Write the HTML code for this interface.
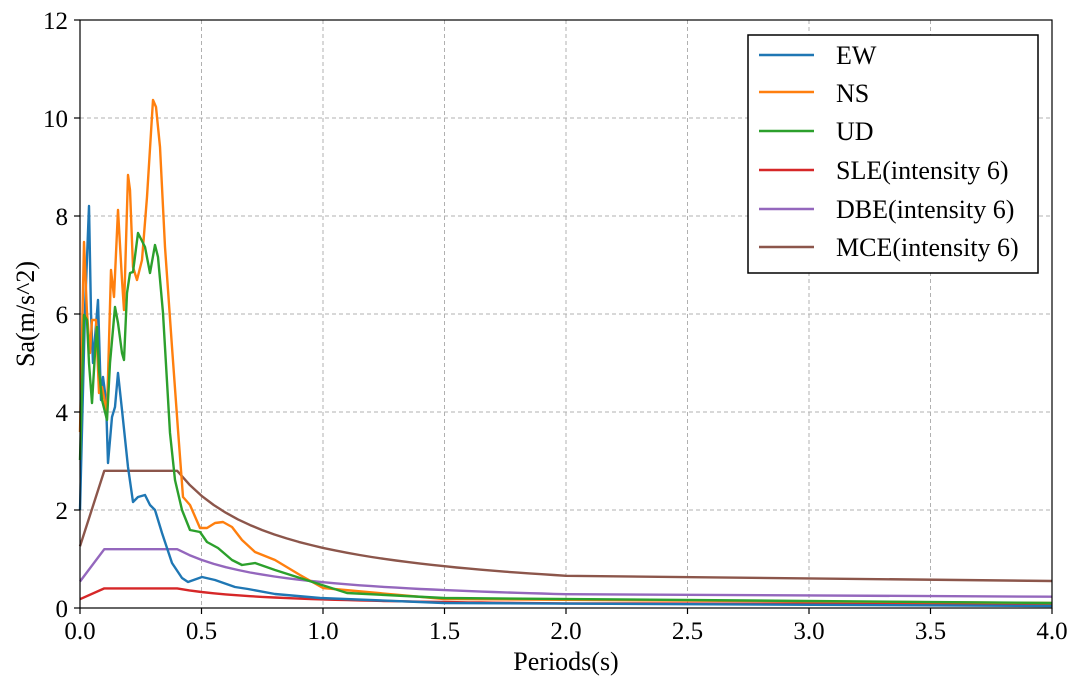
<!DOCTYPE html>
<html><head><style>
body{margin:0;background:#fff;width:1080px;height:686px;overflow:hidden}
text{font-family:"Liberation Serif","Times New Roman",serif;fill:#000}
</style></head><body>
<svg id="s" width="1080" height="686" xmlns="http://www.w3.org/2000/svg">
<g id="grid" stroke="#b0b0b0" stroke-width="1" stroke-dasharray="4,3"></g>
<g id="lines" fill="none" stroke-width="2.4" stroke-linejoin="round"></g>
<rect x="80" y="20" width="972" height="588" fill="none" stroke="#000" stroke-width="1.2"/>
<g id="ticks" stroke="#000" stroke-width="1.2"></g>
<g id="labels" font-size="25"></g>
<text x="566" y="670" font-size="26" text-anchor="middle">Periods(s)</text>
<text transform="translate(34,314) rotate(-90)" font-size="26" text-anchor="middle">Sa(m/s^2)</text>
<rect x="748" y="35" width="290" height="238" fill="#fff" stroke="#000" stroke-width="1.5"/>
<g font-size="26" stroke-width="2.4">
<line x1="759" y1="55" x2="814" y2="55" stroke="#1f77b4"/><text x="836" y="64">EW</text>
<line x1="759" y1="92" x2="814" y2="92" stroke="#ff7f0e"/><text x="836" y="102">NS</text>
<line x1="759" y1="131" x2="814" y2="131" stroke="#2ca02c"/><text x="836" y="140">UD</text>
<line x1="759" y1="170" x2="814" y2="170" stroke="#d62728"/><text x="836" y="179">SLE(intensity 6)</text>
<line x1="759" y1="209" x2="814" y2="209" stroke="#9467bd"/><text x="836" y="218">DBE(intensity 6)</text>
<line x1="759" y1="247" x2="814" y2="247" stroke="#8c564b"/><text x="836" y="256">MCE(intensity 6)</text>
</g>
</svg>
<script>
const NS="http://www.w3.org/2000/svg";
const X=t=>80+t*243, Y=v=>608-v*49;
function el(p,tag,a){const e=document.createElementNS(NS,tag);for(const k in a)e.setAttribute(k,a[k]);p.appendChild(e);return e;}
const g=document.getElementById('grid'),tk=document.getElementById('ticks'),lb=document.getElementById('labels');
for(let i=0;i<=8;i++){const x=X(i*0.5);if(i>0&&i<8)el(g,'line',{x1:x,y1:20,x2:x,y2:608});
el(tk,'line',{x1:x,y1:608,x2:x,y2:614});el(lb,'text',{x:x,y:639,'text-anchor':'middle'}).textContent=(i*0.5).toFixed(1);}
for(let i=0;i<=6;i++){const y=Y(i*2);if(i>0&&i<6)el(g,'line',{x1:80,y1:y,x2:1052,y2:y});
el(tk,'line',{x1:74,y1:y,x2:80,y2:y});el(lb,'text',{x:68,y:y+9,'text-anchor':'end'}).textContent=i*2;}
const L=document.getElementById('lines');
const ew="80,510 85,310 89,206 91,313 93,363 98,300 101,400 103,377 106,400 108,463 112,417 115,407 118,373 122,410 128,467 133,502 138,497 145,495 150,505 155,510 162,533 172,563 182,578 188,582 202,577 215,580 235,587 248,589 275,594 320,598 444,603 1052,606";
const ns="80,432 84,242 87,313 90,353 92,320 96,320 99,393 102,387 107,413 111,270 114,297 118,210 122,280 124,310 128,175 130,190 133,267 137,280 142,260 147,197 153,100 156,107 160,147 165,247 172,347 178,430 183,497 190,505 200,528 207,528 215,523 223,522 232,527 242,540 255,552 275,560 300,575 323,588 444,599 1052,603";
const ud="80,460 84,315 87,320 89,363 92,403 95,353 97,327 99,370 102,400 107,420 110,363 115,307 118,323 122,353 124,360 127,293 130,273 133,272 138,233 145,247 150,273 155,245 158,257 163,313 170,433 175,480 182,510 190,530 200,532 207,542 218,548 232,560 242,565 255,563 275,570 347,593 444,598 1052,603";
function spec(a0,amax,aend){const pts=[[0,a0],[0.1,amax],[0.4,amax]];
for(let t=0.45;t<=2.0001;t+=0.05)pts.push([t,amax*Math.pow(0.4/t,0.9)]);
pts.push([4,aend]);return pts.map(p=>X(p[0]).toFixed(1)+','+Y(p[1]).toFixed(1)).join(' ');}
el(L,'polyline',{points:spec(0.18,0.4,0.08),stroke:'#d62728'});
el(L,'polyline',{points:spec(0.54,1.2,0.23),stroke:'#9467bd'});
el(L,'polyline',{points:spec(1.26,2.8,0.55),stroke:'#8c564b'});
el(L,'polyline',{points:ew,stroke:'#1f77b4'});
el(L,'polyline',{points:ns,stroke:'#ff7f0e'});
el(L,'polyline',{points:ud,stroke:'#2ca02c'});
</script>
</body></html>
